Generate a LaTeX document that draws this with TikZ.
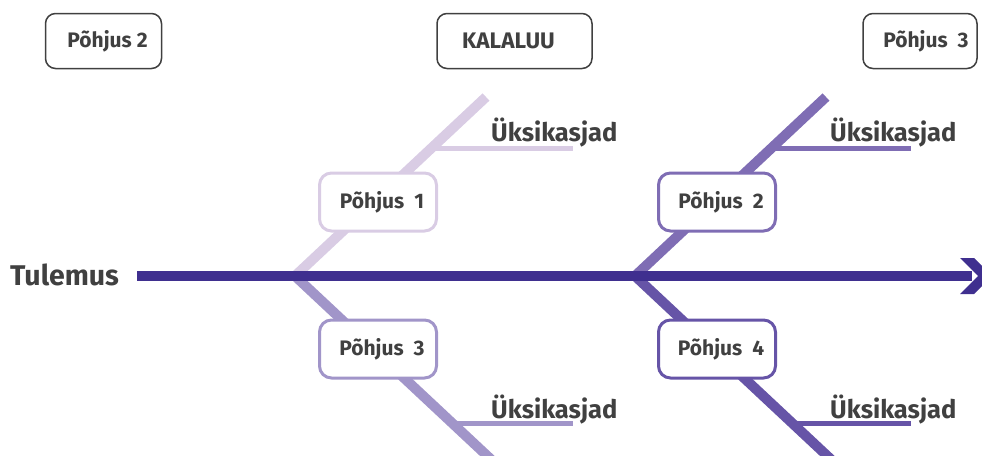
\documentclass[tikz,border=0pt]{standalone}
\usepackage{fontspec}
\setmainfont{Fira Sans}
\definecolor{txt}{HTML}{404040}
\definecolor{spine}{HTML}{3F2F8F}
\definecolor{cA}{HTML}{D9CCE4}
\definecolor{cB}{HTML}{7F6DB4}
\definecolor{cC}{HTML}{A195C9}
\definecolor{cD}{HTML}{6654A7}
\begin{document}
\begin{tikzpicture}[x=1pt,y=-1pt,
  bone/.style={line width=10pt},
  twig/.style={line width=5pt},
  cause/.style={draw=#1,line width=3pt,fill=white,rounded corners=12pt,minimum width=117pt,minimum height=58pt,text=txt,font=\fontsize{21}{24}\selectfont\bfseries,inner sep=0pt},
  topbox/.style={draw=txt,line width=1.5pt,fill=white,rounded corners=10pt,minimum height=55pt,text=txt,font=\fontsize{21}{24}\selectfont\bfseries,inner sep=0pt},
  lbl/.style={text=txt,font=\fontsize{25.5}{30}\selectfont\bfseries,inner sep=0pt,anchor=base west}]
\useasboundingbox (0,0) rectangle (982,455);
\clip (0,0) rectangle (982,455);
% bone coordinates
\coordinate (jL) at (295,276);
\coordinate (jR) at (635,276);
\coordinate (uL) at (486,97);
\coordinate (uR) at (826,97);
\coordinate (dL) at (497,465);
\coordinate (dR) at (837,465);
\coordinate (tUL1) at (432,148); \coordinate (tUL2) at (573,148);
\coordinate (tUR1) at (772,148); \coordinate (tUR2) at (911,148);
\coordinate (tDL1) at (452,423); \coordinate (tDL2) at (573,423);
\coordinate (tDR1) at (792,423); \coordinate (tDR2) at (911,423);
% bones
\draw[bone,cA] (jL) -- (uL);
\draw[bone,cC] (jL) -- (dL);
\draw[bone,cB] (jR) -- (uR);
\draw[bone,cD] (jR) -- (dR);
\draw[twig,cA] (tUL1) -- (tUL2);
\draw[twig,cB] (tUR1) -- (tUR2);
\draw[twig,cC] (tDL1) -- (tDL2);
\draw[twig,cD] (tDR1) -- (tDR2);
% cause boxes
\node[cause=cA] (p1) at (378,202) {\hspace*{8pt}Põhjus\ \ 1};
\node[cause=cB] (p2) at (717,202) {\hspace*{8pt}Põhjus\ \ 2};
\node[cause=cC] (p3) at (378,349) {\hspace*{8pt}Põhjus\ \ 3};
\node[cause=cD] (p4) at (717,349) {\hspace*{8pt}Põhjus\ \ 4};
% spine
\coordinate (s0) at (137,276);
\coordinate (s1) at (972,276);
\draw[line width=10pt,spine] (s0) -- (s1);
\fill[spine] (960,258) -- (974,258) -- (992,276) -- (974,294) -- (960,294) -- (978,276) -- cycle;
% labels
\node[text=txt,font=\fontsize{28.5}{32}\selectfont\bfseries,inner sep=0pt,anchor=base west] (tul) at (10,285) {Tulemus};
\node[lbl] (u1) at (491,141) {Üksikasjad};
\node[lbl] (u2) at (830,141) {Üksikasjad};
\node[lbl] (u3) at (491,418) {Üksikasjad};
\node[lbl] (u4) at (830,418) {Üksikasjad};
% top boxes
\node[topbox,minimum width=116pt] (t1) at (103.5,41) {\hspace*{8pt}Põhjus 2};
\node[topbox,minimum width=155pt,font=\fontsize{22.5}{24}\selectfont\bfseries] (t2) at (514.5,41) {KALALUU\hspace*{12pt}};
\node[topbox,minimum width=114pt] (t3) at (920,41) {\hspace*{12pt}Põhjus\ \ 3};
\end{tikzpicture}
\end{document}
